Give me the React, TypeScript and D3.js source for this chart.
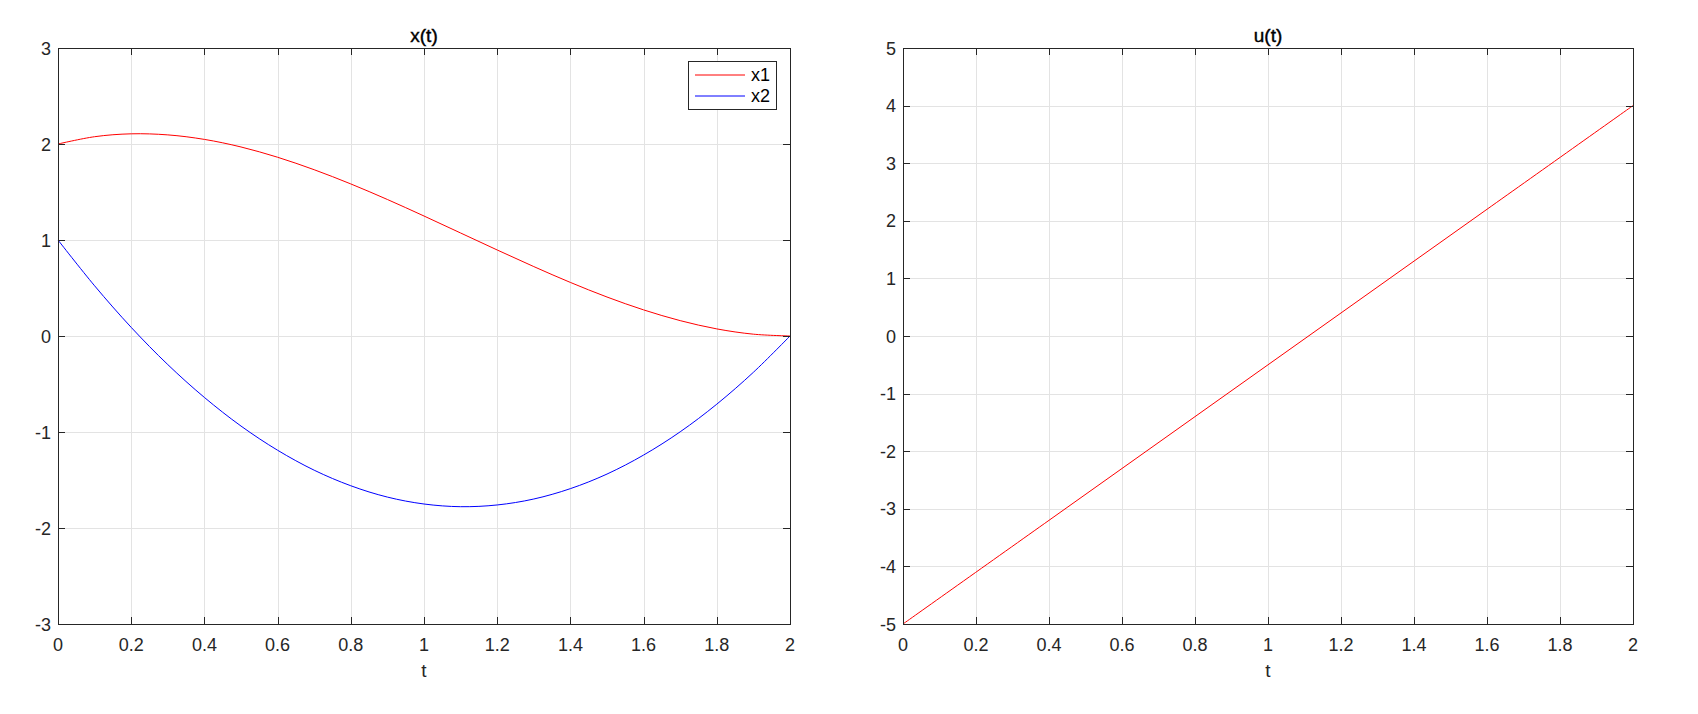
import React, { useRef, useEffect } from 'react';
import * as d3 from 'd3';

// time samples
const tSamples = [0, 0.1, 0.2, 0.3, 0.4, 0.5, 0.6, 0.7, 0.8, 0.9, 1.0,
    1.1, 1.2, 1.3, 1.4, 1.5, 1.6, 1.7, 1.8, 1.9, 2.0];
const x1Values = [2.0, 2.076, 2.106, 2.095, 2.048, 1.969, 1.862, 1.732, 1.584, 1.422, 1.25,
    1.073, 0.896, 0.723, 0.558, 0.406, 0.272, 0.16, 0.074, 0.019, 0.0];
const x2Values = [1.0, 0.523, 0.09, -0.298, -0.64, -0.938, -1.19, -1.398, -1.56, -1.678, -1.75,
    -1.778, -1.76, -1.698, -1.59, -1.438, -1.24, -0.998, -0.71, -0.378, 0.0];
const uTimes = [0, 0.4, 0.8, 1.2, 1.6, 2.0];
const uValues = [-5, -3.2, -1.4, 0.4, 2.2, 4];

const xTicks = [0, 0.2, 0.4, 0.6, 0.8, 1, 1.2, 1.4, 1.6, 1.8, 2];
const leftYTicks = [-3, -2, -1, 0, 1, 2, 3];
const rightYTicks = [-5, -4, -3, -2, -1, 0, 1, 2, 3, 4, 5];
const legendLabels = ['x1', 'x2'];

const W = 1698;
const H = 714;
const FONT = '"Liberation Sans", Arial, Helvetica, sans-serif';
const AXIS = '#262626';
const GRID = '#e3e3e3';

type Series = { t: number[]; v: number[]; color: string };

function drawPanel(
    svg: d3.Selection<SVGSVGElement, unknown, null, undefined>,
    left: number, right: number, top: number, bottom: number,
    yDomain: [number, number], yTicks: number[], title: string,
    series: Series[], legend: boolean
) {
    const x = d3.scaleLinear().domain([0, 2]).range([left, right]);
    const y = d3.scaleLinear().domain(yDomain).range([bottom, top]);
    const g = svg.append('g');

    // grid
    g.selectAll('.gx').data(xTicks).enter().append('line')
        .attr('x1', d => Math.round(x(d)) + 0.5).attr('x2', d => Math.round(x(d)) + 0.5)
        .attr('y1', top).attr('y2', bottom)
        .attr('stroke', GRID).attr('stroke-width', 1);
    g.selectAll('.gy').data(yTicks).enter().append('line')
        .attr('y1', d => Math.round(y(d)) + 0.5).attr('y2', d => Math.round(y(d)) + 0.5)
        .attr('x1', left).attr('x2', right)
        .attr('stroke', GRID).attr('stroke-width', 1);

    // data
    series.forEach(s => {
        const line = d3.line<number>()
            .x((_, i) => x(s.t[i]))
            .y(d => y(d))
            .curve(d3.curveCatmullRom);
        g.append('path')
            .attr('d', line(s.v))
            .attr('fill', 'none')
            .attr('stroke', s.color)
            .attr('stroke-width', 1);
    });

    // box
    g.append('rect')
        .attr('x', left + 0.5).attr('y', top + 0.5)
        .attr('width', right - left).attr('height', bottom - top)
        .attr('fill', 'none').attr('stroke', AXIS).attr('stroke-width', 1);

    // ticks inside on all four sides
    const tl = 7;
    xTicks.forEach(d => {
        const px = Math.round(x(d)) + 0.5;
        g.append('line').attr('x1', px).attr('x2', px).attr('y1', bottom).attr('y2', bottom - tl).attr('stroke', AXIS);
        g.append('line').attr('x1', px).attr('x2', px).attr('y1', top).attr('y2', top + tl).attr('stroke', AXIS);
    });
    yTicks.forEach(d => {
        const py = Math.round(y(d)) + 0.5;
        g.append('line').attr('y1', py).attr('y2', py).attr('x1', left).attr('x2', left + tl).attr('stroke', AXIS);
        g.append('line').attr('y1', py).attr('y2', py).attr('x1', right).attr('x2', right - tl).attr('stroke', AXIS);
    });

    // tick labels
    g.selectAll('.xl').data(xTicks).enter().append('text')
        .attr('x', d => x(d)).attr('y', bottom + 27)
        .attr('text-anchor', 'middle')
        .attr('font-family', FONT).attr('font-size', 18).attr('fill', AXIS)
        .text(d => String(d));
    g.selectAll('.yl').data(yTicks).enter().append('text')
        .attr('x', left - 7).attr('y', d => y(d) + 6.5)
        .attr('text-anchor', 'end')
        .attr('font-family', FONT).attr('font-size', 18).attr('fill', AXIS)
        .text(d => String(d));

    // axis label and title
    g.append('text')
        .attr('x', (left + right) / 2).attr('y', bottom + 53)
        .attr('text-anchor', 'middle')
        .attr('font-family', FONT).attr('font-size', 19).attr('fill', AXIS)
        .text('t');
    g.append('text')
        .attr('x', (left + right) / 2).attr('y', top - 6)
        .attr('text-anchor', 'middle')
        .attr('font-family', FONT).attr('font-size', 19).attr('fill', 'black')
        .attr('stroke', 'black').attr('stroke-width', 0.4)
        .text(title);

    if (legend) {
        const lx = right - 102, ly = top + 13, lw = 88, lh = 48;
        const lg = g.append('g');
        lg.append('rect')
            .attr('x', lx + 0.5).attr('y', ly + 0.5).attr('width', lw).attr('height', lh)
            .attr('fill', 'white').attr('stroke', AXIS).attr('stroke-width', 1);
        legendLabels.forEach((lab, i) => {
            const cy = ly + 14 + i * 21;
            lg.append('line')
                .attr('x1', lx + 7).attr('x2', lx + 57).attr('y1', cy).attr('y2', cy)
                .attr('stroke', series[i].color).attr('stroke-width', 1);
            lg.append('text')
                .attr('x', lx + 63).attr('y', cy + 6)
                .attr('font-family', FONT).attr('font-size', 18).attr('fill', 'black')
                .text(lab);
        });
    }
}

const App: React.FC = () => {
    const ref = useRef<SVGSVGElement | null>(null);

    useEffect(() => {
        if (!ref.current) return;
        const svg = d3.select(ref.current);
        svg.selectAll('*').remove();

        drawPanel(svg, 58, 790, 48, 624, [-3, 3], leftYTicks, 'x(t)', [
            { t: tSamples, v: x1Values, color: '#ff0000' },
            { t: tSamples, v: x2Values, color: '#0000ff' },
        ], true);

        drawPanel(svg, 903, 1633, 48, 624, [-5, 5], rightYTicks, 'u(t)', [
            { t: uTimes, v: uValues, color: '#ff0000' },
        ], false);
    }, []);

    return (
        <svg ref={ref} width={W} height={H}
            style={{ position: 'absolute', left: 0, top: 0, background: 'white' }} />
    );
};

export default App;
